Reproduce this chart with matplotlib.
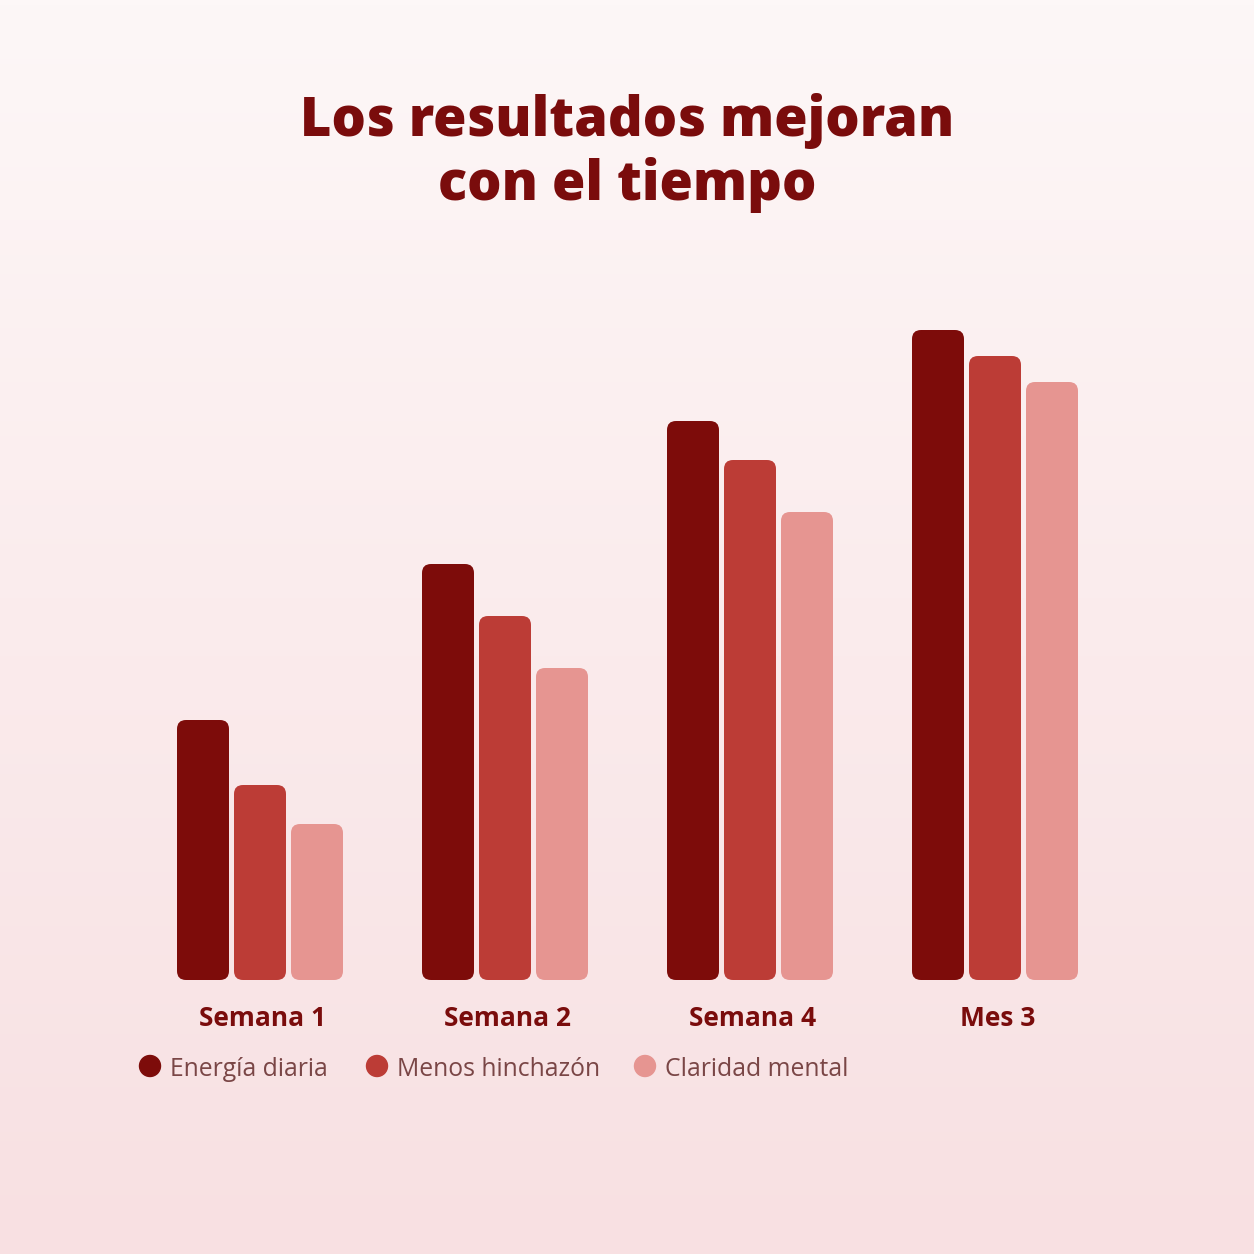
import matplotlib.pyplot as plt
from matplotlib.patches import FancyBboxPatch
import numpy as np

# Datos
categorias = ["Semana 1", "Semana 2", "Semana 4", "Mes 3"]
series = ["Energía diaria", "Menos hinchazón", "Claridad mental"]
energia = [40, 64, 86, 100]
hinchazon = [30, 56, 80, 96]
claridad = [24, 48, 72, 92]
valores = [energia, hinchazon, claridad]
colores = ["#7d0c0a", "#bc3c36", "#e69591"]

TITULO_COLOR = "#7a0c0c"
LEYENDA_COLOR = "#7a4646"
FUENTE = ["Open Sans", "DejaVu Sans"]

fig = plt.figure(figsize=(12.54, 12.54), dpi=100)

# Fondo con degradado vertical
bg = fig.add_axes([0, 0, 1, 1], zorder=0)
grad = np.linspace(0, 1, 256).reshape(-1, 1)
top = np.array([253, 247, 247]) / 255
bot = np.array([248, 224, 226]) / 255
img = top + (bot - top) * grad[:, :, None]
bg.imshow(img, aspect="auto", extent=[0, 1, 0, 1])
bg.set_axis_off()

# Ejes del gráfico (1 grupo = 245 px, 100 unidades = 650 px)
W = 1254
ax = fig.add_axes([137.5 / W, 1 - 980 / W, 980 / W, 650 / W], zorder=1)
ax.set_xlim(-0.5, 3.5)
ax.set_ylim(0, 100)
ax.set_axis_off()
ax.patch.set_alpha(0)

px_x = 245.0
px_y = 6.5
ancho = 52 / px_x
paso = 57 / px_x
radio = 9 / px_x
aspecto = px_x / px_y

x = np.arange(len(categorias))
for j, (vals, col) in enumerate(zip(valores, colores)):
    for i, v in enumerate(vals):
        cx = x[i] + (j - 1) * paso
        p = FancyBboxPatch((cx - ancho / 2, 0), ancho, v,
                           boxstyle=f"round,pad=0,rounding_size={radio}",
                           mutation_aspect=aspecto, facecolor=col,
                           edgecolor="none")
        ax.add_patch(p)

# Etiquetas de categoría
for i, c in enumerate(categorias):
    ax.text(x[i] + 0.01, -6.0, c, ha="center", va="center", fontsize=19,
            fontweight="bold", color=TITULO_COLOR, family=FUENTE)

# Título
fig.text(0.5, 1 - 121 / W, "Los resultados mejoran", ha="center", va="center",
         fontsize=39, fontweight="heavy", color=TITULO_COLOR, family=FUENTE)
fig.text(0.5, 1 - 185 / W, "con el tiempo", ha="center", va="center",
         fontsize=39, fontweight="heavy", color=TITULO_COLOR, family=FUENTE)

# Leyenda
ley_x = [150, 377, 645]
ley_y = 1 - 1066 / W
for lx, s, col in zip(ley_x, series, colores):
    fig.patches.append(plt.Circle((lx / W, ley_y), 10.5 / W, color=col,
                                  transform=fig.transFigure, figure=fig))
    fig.text((lx + 20) / W, ley_y - 3 / W, s, ha="left", va="center",
             fontsize=17.8, color=LEYENDA_COLOR, family=FUENTE)

fig.savefig("out.png", dpi=100)
